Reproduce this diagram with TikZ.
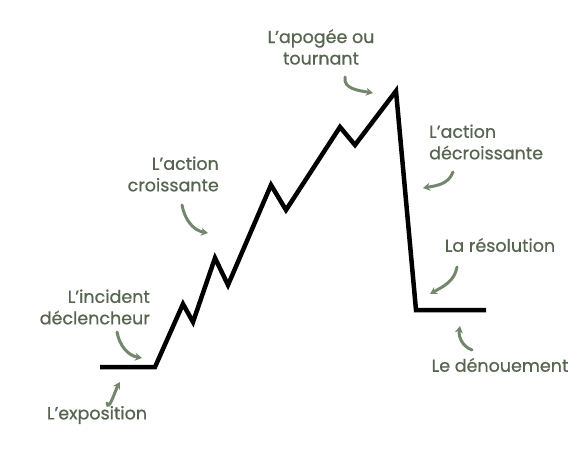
\documentclass[tikz,border=0pt]{standalone}
\usepackage{fontspec}
\setmainfont{Poppins}[UprightFeatures={FakeBold=0.7}]
\usepackage{tikz}
\usetikzlibrary{arrows.meta}
\definecolor{sage}{HTML}{56654F}
\definecolor{sagearrow}{HTML}{74876D}
\tikzstyle{label} = [text=sage, font=\fontsize{17.5}{21.5}\selectfont, inner sep=0pt]
\tikzstyle{curve} = [line width=4.5pt, black, line join=miter]
\tikzstyle{pointer} = [sagearrow, line width=3pt, line cap=round, -{Stealth[length=7pt, width=8pt]}]

\begin{document}
\begin{tikzpicture}[x=1pt, y=-1pt]
                        \useasboundingbox (0,0) rectangle (580,454);
                        % points of the curve
                        \coordinate (p0) at (100,367);
                        \coordinate (p1) at (155,367);
                        \coordinate (p2) at (183,304);
                        \coordinate (p3) at (193,322);
                        \coordinate (p4) at (215,258);
                        \coordinate (p5) at (228,285);
                        \coordinate (p6) at (271,185);
                        \coordinate (p7) at (286,210);
                        \coordinate (p8) at (340,127);
                        \coordinate (p9) at (355,145);
                        \coordinate (top) at (396,91);
                        \coordinate (p11) at (416,310);
                        \coordinate (end) at (486,310);
                        \draw [curve] (p0) -- (p1) -- (p2) -- (p3) -- (p4) -- (p5) -- (p6) -- (p7) -- (p8) -- (p9) -- (top) -- (p11) -- (end);
                        % labels
                        \node (expo) [label] at (97,415) {L’exposition};
                        \node (incident) [label, anchor=east, align=right] at (150,307) {L’incident\\déclencheur};
                        \node (montee) [label, anchor=east, align=right] at (219,174) {L’action\\croissante};
                        \node (apogee) [label, align=center] at (321,47) {L’apogée ou\\tournant};
                        \node (descente) [label, anchor=west, align=left] at (429,142) {L’action\\décroissante};
                        \node (resol) [label] at (500,245) {La résolution};
                        \node (denoue) [label] at (500,365) {Le dénouement};
                        % arrows
                        \coordinate (a1) at (117,332); \coordinate (b1) at (142,358);
                        \coordinate (a2) at (107,403); \coordinate (b2) at (120,382);
                        \coordinate (a3) at (182,205); \coordinate (b3) at (208,233);
                        \coordinate (a4) at (345,77); \coordinate (b4) at (373,93);
                        \coordinate (a5) at (453,172); \coordinate (b5) at (423,188);
                        \coordinate (a6) at (457,267); \coordinate (b6) at (430,294);
                        \coordinate (a7) at (472,350); \coordinate (b7) at (460,326);
                        \draw [pointer] (a1) to[out=-80, in=170] (b1);
                        \draw [pointer] (a2) to[out=-80, in=-120] (b2);
                        \draw [pointer] (a3) to[out=-80, in=170] (b3);
                        \draw [pointer] (a4) to[out=-100, in=170] (b4);
                        \draw [pointer] (a5) to[out=-110, in=10] (b5);
                        \draw [pointer] (a6) to[out=-100, in=30] (b6);
                        \draw [pointer] (a7) to[out=160, in=-100] (b7);
                    \end{tikzpicture}
\end{document}
